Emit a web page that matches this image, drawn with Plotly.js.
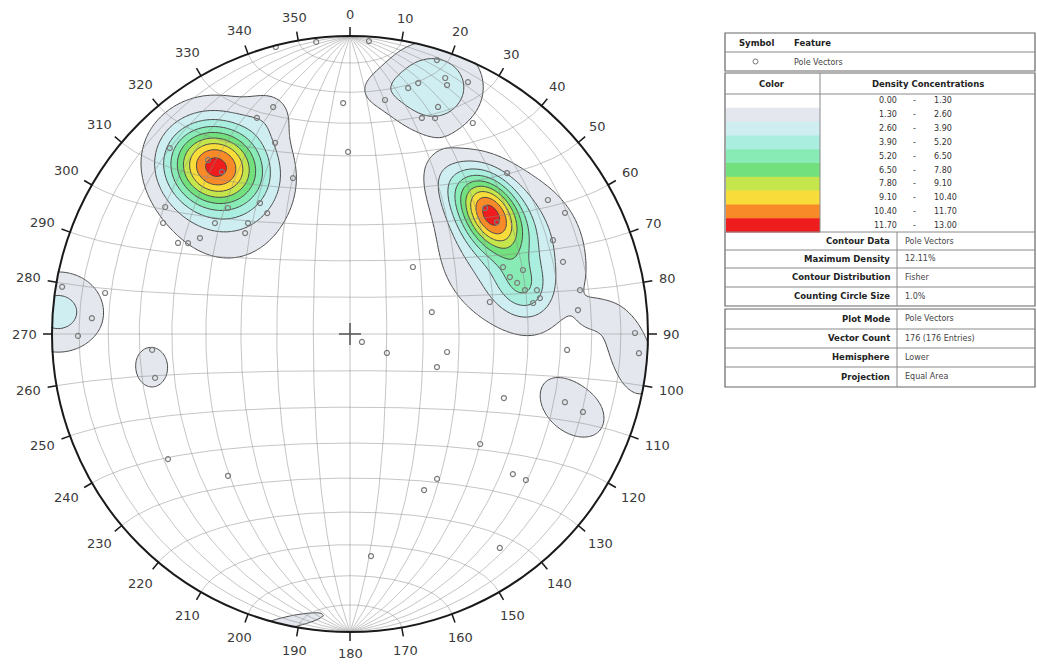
<!DOCTYPE html>
<html><head><meta charset="utf-8">
<script src="https://cdn.plot.ly/plotly-3.0.1.min.js"></script>
<style>html,body{margin:0;padding:0;background:#fff;} #chart{width:1037px;height:666px;}</style>
</head><body><div id="chart"></div>
<script>
// ---------------- data ----------------
// pole vectors: trend / plunge in degrees
const poleTrend = [345.5,353.4,3.7,358.3,359.4,8.5,13.3,15.2,17.6,20.4,21.3,25.1,21.2,18.4,21.5,30.2,
  341.3,336.7,315.9,304.5,300.7,309.4,317.4,325.5,325.6,297.9,299.3,302.6,313.9,315.9,339.9,338.6,320.8,321.7,
  44.3,55.9,60.6,65.2,71.3,66.4,69.7,70.4,73.0,75.9,76.8,79.3,77.1,79.2,84.0,43.2,75.0,80.4,47.0,52.7,
  100.5,110.8,117.2,123.7,94.2,112.6,130.2,130.7,129.7,149.0,154.6,145.0,174.6,220.7,235.5,
  279.5,279.3,273.5,269.6,89.8,93.8,265.4,257.3,107.6,108.5];
const polePlunge = [0.6,1.5,1.7,23.5,38.8,21.7,16.3,13.8,4.0,9.2,11.3,7.4,19.4,24.6,23.2,19.2,
  20.7,22.1,14.2,25.7,27.9,41.0,48.1,45.7,49.3,35.0,37.7,40.0,49.6,40.8,43.6,31.7,25.6,31.3,
  25.5,20.9,18.3,25.9,25.5,43.3,38.1,42.5,41.0,39.3,35.8,35.4,50.2,22.5,24.1,64.8,66.8,37.7,38.0,38.0,
  62.9,64.5,78.7,86.1,27.8,43.4,42.3,28.7,24.3,42.7,41.6,13.4,26.1,37.3,26.8,
  17.8,2.4,14.3,9.6,4.9,3.2,33.8,33.4,25.3,18.7];

// density concentrations (peak in %, spreads in fractions of the net radius)
const clusterTrend  = [321.2,320.3,340.6, 49.2, 62.6, 74.7, 86.2, 18.3,  4.7,274.3, 93.8,108.8,260.3,191.8, 31.7];
const clusterPlunge = [ 28.5, 34.1, 22.1, 37.9, 38.7, 39.9, 20.4, 13.4, 19.0,  2.0,  6.0, 22.0, 33.1,  1.5, 39.1];
const clusterPeak   = [  9.4,  3.0,  1.0,  9.8,  3.2,  2.8,  0.7,  2.9,  1.1,  3.0,  2.2,  1.9,  1.7,  1.75, 1.3];
const clusterSpreadMajor = [0.108,0.195,0.060,0.100,0.195,0.074,0.040,0.151,0.060,0.117,0.130,0.128,0.087,0.150,0.090];
const clusterSpreadMinor = [0.091,0.160,0.060,0.064,0.175,0.060,0.040,0.134,0.060,0.104,0.060,0.087,0.070,0.025,0.060];
const clusterAxis   = [105,170,0,148,150,150,0,90,0,90,160,127,0,78,150];
const clusterProfile= [2,2,2,2,2,2,2,4,2,2,2,2,2,2,2];

const azimuthLabels = [0,10,20,30,40,50,60,70,80,90,100,110,120,130,140,150,160,170,
  180,190,200,210,220,230,240,250,260,270,280,290,300,310,320,330,340,350];

const densityLevels = [0.00,1.30,2.60,3.90,5.20,6.50,7.80,9.10,10.40,11.70,13.00];
const densityColors = ['#ffffff','#e4e8ee','#cfeef2','#aaeee0','#88eab4','#72e07c','#c4e64c','#f7dc3a','#f98a28','#ee1c1c'];

const featureSymbol = 'Pole Vectors';
const infoLabels1 = ['Contour Data','Maximum Density','Contour Distribution','Counting Circle Size'];
const infoValues1 = ['Pole Vectors','12.11%','Fisher','1.0%'];
const infoLabels2 = ['Plot Mode','Vector Count','Hemisphere','Projection'];
const infoValues2 = ['Pole Vectors','176 (176 Entries)','Lower','Equal Area'];

// ---------------- geometry ----------------
const W=1037,H=666,CX=350,CY=334,R=298;
const D2R=Math.PI/180;
const px=v=>v/W, py=v=>1-v/H;
function projTP(trend,plunge){const t=trend*D2R,p=plunge*D2R;const r=Math.sqrt(1-Math.sin(p));return [r*Math.sin(t),r*Math.cos(t)];}
function projVec(N,E,D){const k=1/Math.sqrt(1+D);return [E*k,N*k];}

// net grid (equatorial equal-area net, 10 degree interval)
const gx=[],gy=[];
for(let d=10;d<180;d+=10){const dr=d*D2R;
  for(let i=0;i<=120;i++){const l=i*Math.PI/120;const q=projVec(Math.cos(l),Math.sin(l)*Math.cos(dr),Math.sin(l)*Math.sin(dr));gx.push(q[0]);gy.push(q[1]);}
  gx.push(null);gy.push(null);}
for(let a=10;a<180;a+=10){const ar=a*D2R;
  for(let i=0;i<=120;i++){const f=i*Math.PI/120;const q=projVec(Math.cos(ar),Math.sin(ar)*Math.cos(f),Math.sin(ar)*Math.sin(f));gx.push(q[0]);gy.push(q[1]);}
  gx.push(null);gy.push(null);}

// density grid
const NG=241, gxs=[], gys=[];
for(let i=0;i<NG;i++){gxs.push(-1.06+2.12*i/(NG-1));gys.push(-1.06+2.12*i/(NG-1));}
const centers=clusterTrend.map((t,i)=>projTP(t,clusterPlunge[i]));
const Z=[];
for(let j=0;j<NG;j++){const row=[];const y=gys[j];
  for(let i=0;i<NG;i++){const x=gxs[i];let s=0;
    for(let k=0;k<centers.length;k++){const dx=x-centers[k][0],dy=y-centers[k][1];const b=clusterAxis[k]*D2R;
      const u=dx*Math.sin(b)+dy*Math.cos(b), v=dx*Math.cos(b)-dy*Math.sin(b);
      const q2=u*u/(clusterSpreadMajor[k]**2)+v*v/(clusterSpreadMinor[k]**2);
      s+=clusterPeak[k]*Math.exp(-0.5*Math.pow(q2,clusterProfile[k]/2));}
    row.push(s);}
  Z.push(row);}
const nb=densityColors.length-1;
const cscale=densityColors.map((c,i)=>[i/nb,c]);

const poles=poleTrend.map((t,i)=>projTP(t,polePlunge[i]));

const traces=[
 {type:'contour',x:gxs,y:gys,z:Z,autocontour:false,
  contours:{start:densityLevels[1],end:densityLevels[densityLevels.length-2],size:densityLevels[1]-densityLevels[0],coloring:'fill',showlines:true},
  line:{color:'#4a4a4a',width:1,smoothing:1},colorscale:cscale,showscale:false,hoverinfo:'skip'},
 {type:'scatter',mode:'lines',x:gx,y:gy,line:{color:'rgba(140,140,140,0.5)',width:1},hoverinfo:'skip',showlegend:false},
 {type:'scatter',mode:'markers',x:poles.map(p=>p[0]),y:poles.map(p=>p[1]),
  marker:{symbol:'circle-open',size:5,color:'#7a7a7a',line:{width:1.2,color:'#7a7a7a'}},hoverinfo:'skip',showlegend:false}
];

// ---------------- shapes ----------------
const shapes=[];
const xr=[-CX/R,(W-CX)/R], yr=[-(H-CY)/R,CY/R];
let mp=`M ${xr[0]} ${yr[0]} L ${xr[1]} ${yr[0]} L ${xr[1]} ${yr[1]} L ${xr[0]} ${yr[1]} Z M`;
for(let i=0;i<=360;i++){const a=i*D2R;mp+=(i?' L ':' ')+(1.003*Math.sin(a))+' '+(1.003*Math.cos(a));}
mp+=' Z';
shapes.push({type:'path',path:mp,xref:'x',yref:'y',fillcolor:'#ffffff',fillrule:'evenodd',line:{width:0},layer:'above'});
shapes.push({type:'circle',xref:'x',yref:'y',x0:-1,y0:-1,x1:1,y1:1,line:{color:'#1a1a1a',width:2},layer:'above'});
const annotations=[];
azimuthLabels.forEach(az=>{const a=az*D2R,s=Math.sin(a),c=Math.cos(a);
  shapes.push({type:'line',xref:'x',yref:'y',x0:s,y0:c,x1:s*(1+9/R),y1:c*(1+9/R),line:{color:'#1a1a1a',width:1.5},layer:'above'});
  const txt=String(az);const w=8.2*txt.length,h=13;
  const d=1+(15+Math.abs(s)*w/2+Math.abs(c)*h/2)/R;
  annotations.push({x:s*d,y:c*d,xref:'x',yref:'y',text:txt,showarrow:false,xanchor:'center',yanchor:'middle',
    font:{family:'DejaVu Sans',size:13,color:'#3a3a3a'}});
});
// centre cross
const cc=11/R;
shapes.push({type:'line',xref:'x',yref:'y',x0:-cc,y0:0,x1:cc,y1:0,line:{color:'#555',width:1.5},layer:'above'});
shapes.push({type:'line',xref:'x',yref:'y',x0:0,y0:-cc,x1:0,y1:cc,line:{color:'#555',width:1.5},layer:'above'});

// ---------------- info tables ----------------
const TL=725,TR=1035,DIV1=820,DIV2=897;
function rect(x0,y0,x1,y1,fill,lc,lw){shapes.push({type:'rect',xref:'paper',yref:'paper',x0:px(x0),x1:px(x1),y0:py(y1),y1:py(y0),
  fillcolor:fill||'rgba(0,0,0,0)',line:{color:lc||'rgba(0,0,0,0)',width:lw||0},layer:'above'});}
function hline(x0,x1,y,col){shapes.push({type:'line',xref:'paper',yref:'paper',x0:px(x0),x1:px(x1),y0:py(y),y1:py(y),line:{color:col||'#8a8a8a',width:1},layer:'above'});}
function vline(x,y0,y1,col){shapes.push({type:'line',xref:'paper',yref:'paper',x0:px(x),x1:px(x),y0:py(y0),y1:py(y1),line:{color:col||'#8a8a8a',width:1},layer:'above'});}
function txt(x,y,t,anchor,bold,size,col){annotations.push({xref:'paper',yref:'paper',x:px(x),y:py(y),text:bold?'<b>'+t+'</b>':t,showarrow:false,
  xanchor:anchor,yanchor:'middle',font:{family:'DejaVu Sans',size:size||8,color:col||'#222'}});}

// table 1
rect(TL,33,TR,71,null,'#666',1.2);
hline(TL,TR,52);
txt(737,43,'Symbol','left',true,8.5);
txt(792,43,'Feature','left',true,8.5);
shapes.push({type:'circle',xref:'paper',yref:'paper',x0:px(753),x1:px(758),y0:py(64),y1:py(59),line:{color:'#777',width:1},layer:'above'});
txt(792,62,featureSymbol,'left',false,8,'#444');

// table 2
const bandTop=94,bandH=13.8;
for(let i=0;i<densityColors.length;i++){rect(TL+1,bandTop+i*bandH,DIV1,bandTop+(i+1)*bandH+0.6,densityColors[i],null,0);
  txt(899,101+i*bandH,densityLevels[i].toFixed(2),'right',false,8,'#333');
  txt(914,101+i*bandH,'-','center',false,8,'#333');
  txt(932,101+i*bandH,densityLevels[i+1].toFixed(2),'left',false,8,'#333');}
rect(TL,73,TR,306,null,'#666',1.2);
hline(TL,TR,94);
vline(DIV1,73,232);
hline(TL,TR,232);
hline(TL,TR,250);hline(TL,TR,268);hline(TL,TR,287);
vline(DIV2,232,306);
txt(772,84,'Color','center',true,8.5);
txt(928,84,'Density Concentrations','center',true,8.5);
const ry1=[241,259,277,296];
infoLabels1.forEach((l,i)=>{txt(892,ry1[i],l,'right',true,8.5);txt(903,ry1[i],infoValues1[i],'left',false,8,'#444');});

// table 3
rect(TL,309,TR,387,null,'#666',1.2);
hline(TL,TR,329);hline(TL,TR,348);hline(TL,TR,367);
vline(DIV2,309,387);
const ry2=[319,338,357,377];
infoLabels2.forEach((l,i)=>{txt(892,ry2[i],l,'right',true,8.5);txt(903,ry2[i],infoValues2[i],'left',false,8,'#444');});

const layout={width:W,height:H,margin:{l:0,r:0,t:0,b:0},paper_bgcolor:'#fff',plot_bgcolor:'#fff',showlegend:false,
  xaxis:{range:xr,visible:false,fixedrange:true,showgrid:false,zeroline:false},
  yaxis:{range:yr,visible:false,fixedrange:true,showgrid:false,zeroline:false},
  shapes:shapes,annotations:annotations};
Plotly.newPlot('chart',traces,layout,{staticPlot:true,displayModeBar:false});
</script></body></html>
